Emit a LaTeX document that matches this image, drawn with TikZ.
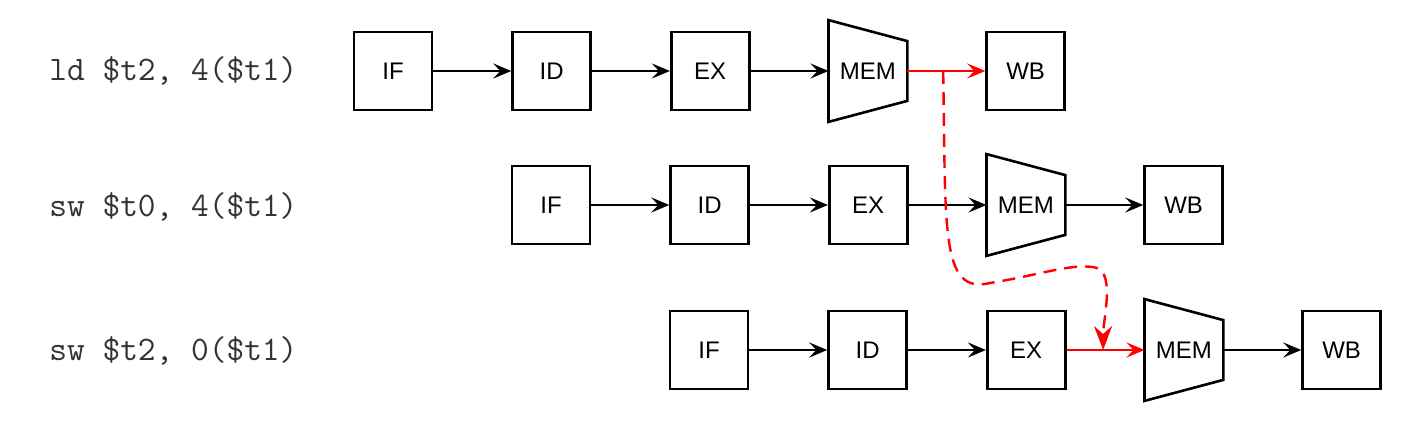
\documentclass[tikz,border=0pt]{standalone}
\usepackage{fontspec}
\setmainfont{Liberation Sans}
\usetikzlibrary{arrows.meta, positioning}

\begin{document}
\begin{tikzpicture}[
      x=0.5pt, y=-0.5pt,
      >={Stealth[length=9pt, width=7.5pt, inset=3.5pt]},
      node distance=39pt,
      stage/.style={
        rectangle, draw, line width=1.3pt,
        minimum width=39pt, minimum height=39pt, font=\fontsize{12}{14}\selectfont
      },
      memstage/.style={
        rectangle, minimum width=39pt, minimum height=50.5pt, font=\fontsize{12}{14}\selectfont
      },
      instr/.style={anchor=west, inner sep=0pt, text=black!80, font=\ttfamily\fontsize{17.2}{19}\selectfont},
      flow/.style={->, line width=1.2pt},
      fwd/.style={->, line width=1.2pt, red}
    ]
    \useasboundingbox (0,0) rectangle (1410,442);

    % instructions
    \node[instr] (lda) at (49,71)  {ld \$t2, 4(\$t1)};
    \node[instr] (swa) at (49,207) {sw \$t0, 4(\$t1)};
    \node[instr] (swb) at (49,351) {sw \$t2, 0(\$t1)};

    % first pipeline
    \node[stage] (ifa) at (393,71) {IF};
    \node[stage, right=of ifa]    (ida)  {ID};
    \node[stage, right=of ida]    (exa)  {EX};
    \node[memstage, right=of exa] (mema) {MEM};
    \node[stage, right=of mema]   (wba)  {WB};

    % second pipeline
    \node[stage] (ifb) at (551,205) {IF};
    \node[stage, right=of ifb]    (idb)  {ID};
    \node[stage, right=of idb]    (exb)  {EX};
    \node[memstage, right=of exb] (memb) {MEM};
    \node[stage, right=of memb]   (wbb)  {WB};

    % third pipeline
    \node[stage] (ifc) at (709,350) {IF};
    \node[stage, right=of ifc]    (idc)  {ID};
    \node[stage, right=of idc]    (exc)  {EX};
    \node[memstage, right=of exc] (memc) {MEM};
    \node[stage, right=of memc]   (wbc)  {WB};

    \foreach \m in {mema, memb, memc}
      \draw[line width=1.3pt] (\m.north west) -- ([yshift=-10.5pt]\m.north east)
        -- ([yshift=10.5pt]\m.south east) -- (\m.south west) -- cycle;

    \foreach \a/\b in {ifa/ida, ida/exa, exa/mema,
                       ifb/idb, idb/exb, exb/memb, memb/wbb,
                       ifc/idc, idc/exc, memc/wbc}
      \draw[flow] (\a) -- (\b);

    % forwarding
    \draw[fwd] (mema) -- coordinate[pos=0.46] (ldout) (wba);
    \draw[fwd] (exc) -- coordinate[pos=0.47] (swin) (memc);
    \draw[red, line width=1.2pt, dash pattern=on 6.5pt off 4pt,
          -{Stealth[length=12pt, width=9pt, inset=4pt]}]
      (ldout) .. controls (946,230) and (940,295) .. (990,283)
      .. controls (1040,275) and (1075,262) .. (1097,268)
      .. controls (1115,275) and (1103,320) .. (swin);
  \end{tikzpicture}
\end{document}
